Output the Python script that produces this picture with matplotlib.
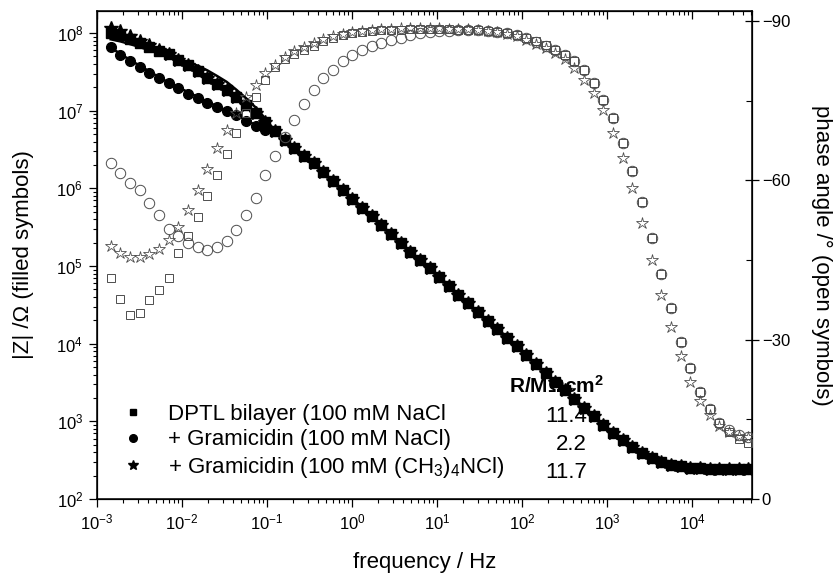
import matplotlib
matplotlib.use("Agg")
import matplotlib.pyplot as plt
from matplotlib.lines import Line2D
from matplotlib.ticker import NullFormatter, FixedLocator, FixedFormatter, LogFormatterSciNotation

plt.rcParams['font.family'] = ['Liberation Sans', 'DejaVu Sans']
plt.rcParams['mathtext.fontset'] = 'custom'
plt.rcParams['mathtext.rm'] = 'Liberation Sans'
plt.rcParams['mathtext.it'] = 'Liberation Sans:italic'
plt.rcParams['mathtext.bf'] = 'Liberation Sans:bold'
plt.rcParams['axes.unicode_minus'] = True

# frequency sweep (Hz)
freq = [1.45e-3, 1.88e-3, 2.44e-3, 3.18e-3, 4.13e-3, 5.36e-3, 6.97e-3, 9.05e-3, 1.18e-2, 1.53e-2,
        1.99e-2, 2.58e-2, 3.35e-2, 4.36e-2, 5.66e-2, 7.35e-2, 9.55e-2, 0.124, 0.161, 0.209,
        0.272, 0.353, 0.459, 0.597, 0.775, 1.01, 1.31, 1.70, 2.21, 2.87,
        3.73, 4.84, 6.29, 8.17, 10.6, 13.8, 17.9, 23.3, 30.3, 39.3,
        51.1, 66.4, 86.2, 112, 145, 189, 245, 319, 414, 538,
        700, 908, 1180, 1535, 1990, 2590, 3365, 4365, 5675, 7380,
        9575, 12450, 16180, 21000, 27300, 35480, 46030]

# |Z| above ~0.1 Hz is the same for all three samples (capacitive branch + electrolyte)
z_tail = [5.5e6, 4.2e6, 3.3e6, 2.63e6, 2.10e6, 1.61e6, 1.24e6, 9.57e5, 7.36e5, 5.66e5,
          4.37e5, 3.36e5, 2.58e5, 1.99e5, 1.53e5, 1.18e5, 9.40e4, 7.23e4, 5.56e4, 4.29e4,
          3.30e4, 2.54e4, 1.95e4, 1.56e4, 1.20e4, 9.23e3, 7.10e3, 5.46e3, 4.21e3, 3.25e3,
          2.50e3, 1.93e3, 1.50e3, 1.16e3, 907, 715, 571, 466, 390, 337,
          301, 278, 263, 254, 248, 245, 243, 242, 241, 241]

# low-frequency |Z| (Ohm) per sample
z_dptl_low = [1.0e8, 9.5e7, 8.3e7, 7.4e7, 6.6e7, 5.9e7, 5.3e7, 4.5e7, 3.9e7, 3.2e7,
              2.6e7, 2.2e7, 1.85e7, 1.5e7, 1.17e7, 9.3e6, 7.2e6]
z_gram_low = [6.6e7, 5.25e7, 4.4e7, 3.7e7, 3.1e7, 2.6e7, 2.24e7, 1.95e7, 1.66e7, 1.45e7,
              1.26e7, 1.12e7, 1.0e7, 8.7e6, 7.4e6, 6.3e6, 5.6e6]
z_tma_low = [1.15e8, 1.05e8, 9.2e7, 8.0e7, 7.0e7, 6.1e7, 5.3e7, 4.5e7, 3.9e7, 3.2e7,
             2.6e7, 2.2e7, 1.85e7, 1.5e7, 1.17e7, 9.3e6, 7.2e6]

# equivalent-circuit fits (low-frequency part)
fit_dptl_low = [8.3e7, 7.8e7, 7.2e7, 6.6e7, 6.0e7, 5.5e7, 5.0e7, 4.6e7, 4.2e7, 3.8e7,
                3.3e7, 2.8e7, 2.35e7, 1.86e7, 1.45e7, 1.10e7, 7.9e6]
fit_gram_low = [6.5e7, 5.4e7, 4.5e7, 3.8e7, 3.2e7, 2.7e7, 2.3e7, 2.0e7, 1.73e7, 1.5e7,
                1.3e7, 1.14e7, 1.0e7, 8.8e6, 7.6e6, 6.5e6, 5.6e6]

z_dptl = z_dptl_low + z_tail
z_gram = z_gram_low + z_tail
z_tma = z_tma_low + z_tail
fit_dptl = fit_dptl_low + z_tail
fit_gram = fit_gram_low + z_tail

# phase angles (degrees)
phase_dptl = [-41.6, -37.6, -34.7, -35.0, -37.5, -39.4, -41.6, -46.3, -49.5, -53.2,
              -57.0, -61.0, -65.0, -68.9, -72.6, -75.7, -79.0, -81.3, -82.8, -83.8,
              -84.6, -85.4, -86.2, -86.8, -87.3, -87.7, -88.0, -88.2, -88.3, -88.4,
              -88.4, -88.5, -88.5, -88.5, -88.5, -88.5, -88.4, -88.4, -88.3, -88.2,
              -88.0, -87.7, -87.3, -86.8, -86.2, -85.5, -84.6, -83.6, -82.4, -80.8,
              -78.3, -75.1, -71.7, -67.0, -61.8, -55.9, -49.2, -42.4, -35.9, -29.6,
              -24.6, -20.2, -16.9, -14.4, -12.6, -11.3, -10.6]
phase_gram = [-63.2, -61.4, -59.6, -58.1, -55.8, -53.5, -50.8, -49.5, -48.2, -47.4,
              -46.9, -47.4, -48.6, -50.7, -53.5, -56.6, -61.0, -64.5, -68.2, -71.4,
              -74.4, -77.0, -79.2, -80.8, -82.4, -83.6, -84.6, -85.3, -85.9, -86.4,
              -86.9, -87.3, -87.7, -87.9, -88.1, -88.2, -88.3, -88.3, -88.3, -88.2,
              -88.0, -87.7, -87.3, -86.8, -86.1, -85.4, -84.6, -83.6, -82.4, -80.8,
              -78.3, -75.1, -71.7, -67.0, -61.8, -56.0, -49.2, -42.4, -35.9, -29.6,
              -24.6, -20.2, -16.9, -14.4, -13.0, -12.1, -11.6]
phase_tma = [-47.7, -46.4, -45.6, -45.5, -46.1, -47.0, -48.8, -51.3, -54.4, -58.2,
             -62.2, -66.1, -69.5, -72.6, -75.7, -78.0, -80.2, -81.7, -83.3, -84.3,
             -85.2, -85.8, -86.6, -87.1, -87.5, -87.9, -88.2, -88.4, -88.5, -88.6,
             -88.7, -88.7, -88.7, -88.7, -88.7, -88.6, -88.6, -88.5, -88.4, -88.2,
             -88.0, -87.6, -87.1, -86.5, -85.7, -84.9, -83.9, -82.8, -81.1, -79.0,
             -76.5, -73.3, -69.0, -64.2, -58.5, -51.9, -45.1, -38.5, -32.3, -26.9,
             -22.1, -18.5, -15.8, -13.7, -12.7, -11.9, -11.7]

legend_labels = ["DPTL bilayer (100 mM NaCl",
                 "+ Gramicidin (100 mM NaCl)",
                 "+ Gramicidin (100 mM (CH$_3$)$_4$NCl)"]
resistances = ["11.4", "2.2", "11.7"]

x_decades = [1e-3, 1e-2, 1e-1, 1e0, 1e1, 1e2, 1e3, 1e4]
y_decades = [1e2, 1e3, 1e4, 1e5, 1e6, 1e7, 1e8]
x_minor = [m * d for d in x_decades for m in range(2, 10) if m * d < 5.08e4]
y_minor = [m * d for d in y_decades for m in range(2, 10) if m * d < 1.92e8]
phase_ticks = [0, -30, -60, -90]
phase_ticklabels = ['0', '\u221230', '\u221260', '\u221290']

W, H = 838, 575
fig = plt.figure(figsize=(W / 100, H / 100), dpi=100)
ax = fig.add_axes([97 / W, 1 - 499 / H, (752 - 97) / W, (499 - 11) / H])

ax.set_xscale('log')
ax.set_yscale('log')
ax.set_xlim(1e-3, 5.08e4)
ax.set_ylim(1e2, 1.92e8)

# fitted curves
ax.plot(freq, fit_dptl, color='black', lw=1.8, zorder=2)
ax.plot(freq, fit_gram, color='black', lw=1.8, zorder=2)

# |Z| data, filled symbols
ax.plot(freq, z_dptl, ls='none', marker='s', ms=6.5, color='black', zorder=3)
ax.plot(freq, z_gram, ls='none', marker='o', ms=7, color='black', zorder=3)
ax.plot(freq, z_tma, ls='none', marker='*', ms=10, color='black', zorder=3)

ax.set_xlabel('frequency / Hz', fontsize=16, labelpad=14)
ax.set_ylabel('|Z| /\u03a9 (filled symbols)', fontsize=16, labelpad=16)

ax.xaxis.set_major_locator(FixedLocator(x_decades))
ax.xaxis.set_major_formatter(LogFormatterSciNotation())
ax.xaxis.set_minor_locator(FixedLocator(x_minor))
ax.xaxis.set_minor_formatter(NullFormatter())
ax.yaxis.set_major_locator(FixedLocator(y_decades))
ax.yaxis.set_major_formatter(LogFormatterSciNotation())
ax.yaxis.set_minor_locator(FixedLocator(y_minor))
ax.yaxis.set_minor_formatter(NullFormatter())
ax.tick_params(which='major', direction='out', length=6, width=0.9, labelsize=12, pad=4)
ax.tick_params(which='minor', direction='out', length=3, width=0.8)
ax.tick_params(axis='x', which='both', top=False)
for s in ax.spines.values():
    s.set_linewidth(1.1)

# inward ticks along the top edge
axt = ax.twiny()
axt.set_xscale('log')
axt.set_xlim(ax.get_xlim())
axt.xaxis.set_major_locator(FixedLocator(x_decades))
axt.xaxis.set_minor_locator(FixedLocator(x_minor))
axt.xaxis.set_major_formatter(NullFormatter())
axt.xaxis.set_minor_formatter(NullFormatter())
axt.tick_params(which='both', direction='in', labeltop=False, labelbottom=False)
axt.tick_params(which='major', length=6, width=0.9)
axt.tick_params(which='minor', length=3, width=0.8)

# phase axis
ax2 = ax.twinx()
ax2.set_ylim(0, -91.9)
ax2.plot(freq, phase_dptl, ls='none', marker='s', ms=6, mfc='none', mec='0.3', mew=0.7, zorder=3)
ax2.plot(freq, phase_gram, ls='none', marker='o', ms=7.5, mfc='none', mec='0.3', mew=0.7, zorder=3)
ax2.plot(freq, phase_tma, ls='none', marker='*', ms=9, mfc='none', mec='0.3', mew=0.6, zorder=3)
ax2.yaxis.set_major_locator(FixedLocator(phase_ticks))
ax2.yaxis.set_major_formatter(FixedFormatter(phase_ticklabels))
ax2.yaxis.set_minor_locator(FixedLocator([-15, -45, -75]))
ax2.tick_params(which='major', direction='inout', length=10, width=0.9, labelsize=12, pad=2)
ax2.tick_params(which='minor', direction='in', length=4, width=0.8)
ax2.set_ylabel('phase angle /\u00b0 (open symbols)', fontsize=16, rotation=270, labelpad=30)

# legend
handles = [Line2D([], [], ls='none', marker='s', ms=5, color='black'),
           Line2D([], [], ls='none', marker='o', ms=5.5, color='black'),
           Line2D([], [], ls='none', marker='*', ms=7, color='black')]
ax.legend(handles, legend_labels, loc='upper left', frameon=False, fontsize=16,
          bbox_to_anchor=(122 / W, 1 - 404 / H), bbox_transform=fig.transFigure,
          borderpad=0, borderaxespad=0, handlelength=1.0, handletextpad=1.05,
          labelspacing=0.2)

fig.text(604 / W, 1 - 393 / H, 'R/M\u03a9cm$^{\\mathbf{2}}$', fontsize=15, fontweight='bold',
         ha='right', va='baseline')
for k, r in enumerate(resistances):
    fig.text(587 / W, 1 - (422 + 28 * k) / H, r, fontsize=16, ha='right', va='baseline')

fig.savefig('out.png', dpi=100)
